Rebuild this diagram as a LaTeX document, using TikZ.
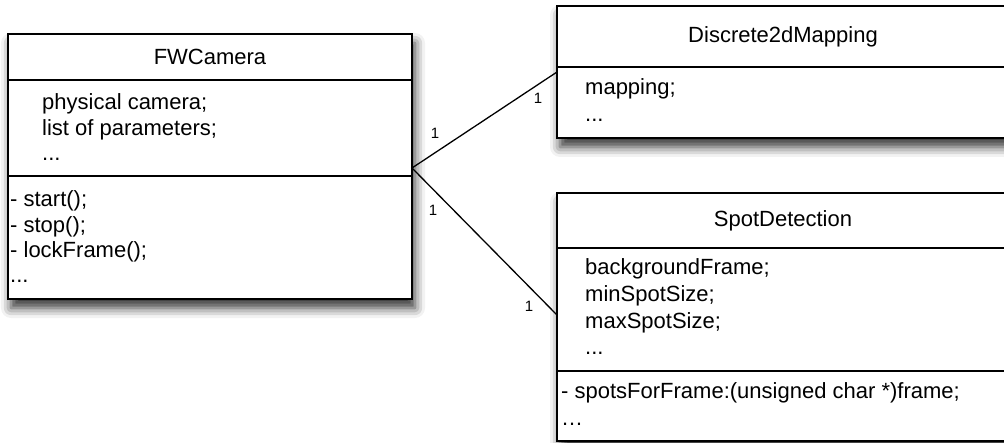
\documentclass[tikz,border=0pt]{standalone}
\usepackage{fontspec}
\setmainfont{Liberation Sans}
\usetikzlibrary{calc,shadows.blur}

\tikzset{
  classframe/.style={fill=white, inner sep=0pt, outer sep=0pt, anchor=north west,
    blur shadow={shadow xshift=3pt, shadow yshift=-9pt, shadow blur radius=10pt, shadow opacity=80}},
  part/.style={draw=black, line width=1.5pt, inner sep=0pt, outer sep=0pt, anchor=north west},
  title/.style={part, font=\fontsize{22}{26}\selectfont},
  member/.style={anchor=base west, inner sep=0pt, font=\fontsize{22}{26}\selectfont},
  mult/.style={inner sep=0pt, font=\fontsize{15}{17}\selectfont},
  assoc/.style={draw=black, line width=1.3pt}
}

\begin{document}
\begin{tikzpicture}[x=1pt, y={(0,-1pt)}]
\useasboundingbox (0,0) rectangle (1004,443);

% ---- FWCamera ----
\node[classframe, minimum width=404pt, minimum height=265pt] (fwc) at (8,34) {};
\node[title, minimum width=404pt, minimum height=46pt] (fwc-head) at (8,34) {FWCamera};
\node[part, minimum width=404pt, minimum height=96pt] (fwc-attr) at (8,80) {};
\node[part, minimum width=404pt, minimum height=123pt] (fwc-ops) at (8,176) {};
\node[member] (fwc-a1) at (42,110) {physical camera;};
\node[member] (fwc-a2) at (42,136) {list of parameters;};
\node[member] (fwc-a3) at (42,161) {...};
\node[member] (fwc-o1) at (10,207) {- start();};
\node[member] (fwc-o2) at (10,233) {- stop();};
\node[member] (fwc-o3) at (10,258) {- lockFrame();};
\node[member] (fwc-o4) at (10,283) {...};

% ---- Discrete2dMapping ----
\node[classframe, minimum width=452pt, minimum height=132pt] (dm) at (557,6) {};
\node[title, minimum width=452pt, minimum height=61pt] (dm-head) at (557,6) {Discrete2dMapping};
\node[part, minimum width=452pt, minimum height=71pt] (dm-attr) at (557,67) {};
\node[member] (dm-a1) at (585,95) {mapping;};
\node[member] (dm-a2) at (585,122) {...};

% ---- SpotDetection ----
\node[classframe, minimum width=452pt, minimum height=248pt] (sd) at (557,193) {};
\node[title, minimum width=452pt, minimum height=55pt] (sd-head) at (557,193) {SpotDetection};
\node[part, minimum width=452pt, minimum height=123pt] (sd-attr) at (557,248) {};
\node[part, minimum width=452pt, minimum height=70pt] (sd-ops) at (557,371) {};
\node[member] (sd-a1) at (585,275) {backgroundFrame;};
\node[member] (sd-a2) at (585,302) {minSpotSize;};
\node[member] (sd-a3) at (585,329) {maxSpotSize;};
\node[member] (sd-a4) at (585,355) {...};
\node[member] (sd-o1) at (561,399) {- spotsForFrame:(unsigned char *)frame;};
\node[member] (sd-o2) at (561,425) {…};

% ---- associations ----
\coordinate (fwc-port) at ($(fwc-attr.south east)+(0,-8)$);
\coordinate (dm-port) at ($(dm-attr.north west)+(0,5)$);
\coordinate (sd-port) at ($(sd-attr.north west)+(0,67)$);
\draw[assoc] (dm-port) -- (fwc-port) -- (sd-port);

\node[mult] (m-fwc-dm) at (435,133) {1};
\node[mult] (m-dm) at (538,98) {1};
\node[mult] (m-fwc-sd) at (433,210) {1};
\node[mult] (m-sd) at (529,306) {1};
\end{tikzpicture}
\end{document}
